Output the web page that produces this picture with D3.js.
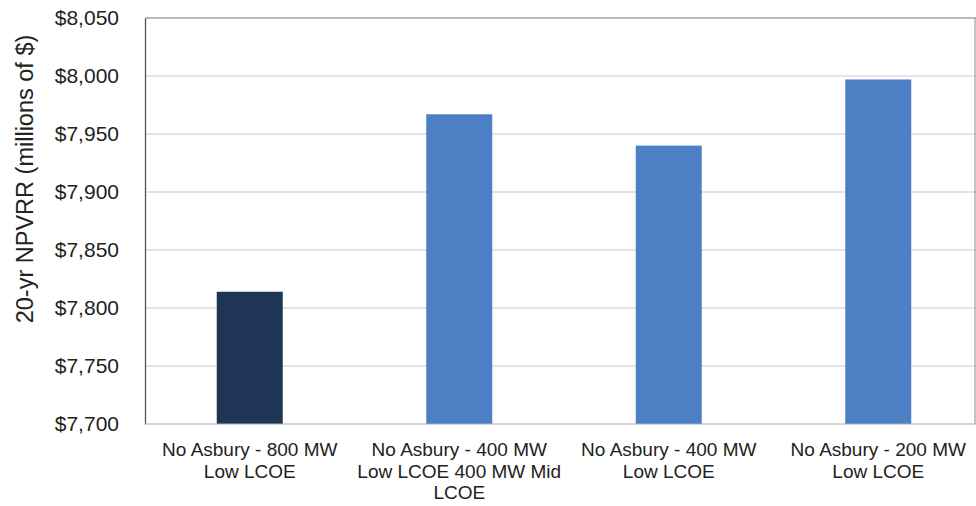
<!DOCTYPE html>
<html>
<head>
<meta charset="utf-8">
<script src="https://cdn.jsdelivr.net/npm/d3@7"></script>
<style>
  html, body { margin: 0; padding: 0; background: #fff; }
  svg { display: block; font-family: "Liberation Sans", Arial, sans-serif; }
</style>
</head>
<body>
<svg id="chart" width="976" height="506"></svg>
<script>
// Scenario labels (one line per array entry)
const categories = [
  ["No Asbury - 800 MW", "Low LCOE"],
  ["No Asbury - 400 MW", "Low LCOE 400 MW Mid", "LCOE"],
  ["No Asbury - 400 MW", "Low LCOE"],
  ["No Asbury - 200 MW", "Low LCOE"]
];
// 20-year NPVRR, millions of dollars
const values = [7814, 7967, 7940, 7997];
const barColors = ["#1f3556", "#4d7fc5", "#4d7fc5", "#4d7fc5"];
const yTicks = [7700, 7750, 7800, 7850, 7900, 7950, 8000, 8050];
const yTitle = "20-yr NPVRR (millions of $)";

const svg = d3.select("#chart");
const plotLeft = 145, plotRight = 983, plotTop = 18, plotBottom = 424;

const x = d3.scaleBand()
  .domain(d3.range(categories.length))
  .range([plotLeft, plotRight])
  .paddingInner(0.685)
  .paddingOuter(0.3425);

const y = d3.scaleLinear().domain([7700, 8050]).range([plotBottom, plotTop]);

// Horizontal gridlines
svg.append("g")
  .selectAll("line")
  .data(yTicks.slice(1, -1))
  .join("line")
  .attr("x1", plotLeft).attr("x2", 976)
  .attr("y1", d => y(d)).attr("y2", d => y(d))
  .attr("stroke", "#c9c9c9").attr("stroke-width", 1);

// Plot frame: top and right edges
svg.append("line").attr("x1", plotLeft).attr("x2", 976)
  .attr("y1", y(8050)).attr("y2", y(8050))
  .attr("stroke", "#777").attr("stroke-width", 1.2);
svg.append("line").attr("x1", 975).attr("x2", 975)
  .attr("y1", y(8050)).attr("y2", y(7700))
  .attr("stroke", "#888").attr("stroke-width", 1);

// Bars
svg.append("g")
  .selectAll("rect")
  .data(values)
  .join("rect")
  .attr("x", (d, i) => x(i))
  .attr("width", x.bandwidth())
  .attr("y", d => y(d))
  .attr("height", d => y(7700) - y(d))
  .attr("fill", (d, i) => barColors[i]);

// Y axis
const yAxis = d3.axisLeft(y).tickValues(yTicks)
  .tickFormat(d => "$" + d3.format(",")(d))
  .tickSize(0).tickPadding(26);
const gy = svg.append("g").attr("transform", `translate(${plotLeft},0)`).call(yAxis);
gy.select(".domain").attr("stroke", "#555").attr("stroke-width", 1.3);
gy.selectAll("text").attr("font-size", 21).attr("fill", "#222")
  .attr("font-family", "Liberation Sans, Arial, sans-serif");

// Bottom axis line
svg.append("line").attr("x1", plotLeft).attr("x2", 976)
  .attr("y1", plotBottom).attr("y2", plotBottom)
  .attr("stroke", "#aaa").attr("stroke-width", 1);

// Category labels
const xl = svg.append("g");
categories.forEach((lines, i) => {
  const cx = x(i) + x.bandwidth() / 2;
  const t = xl.append("text")
    .attr("x", cx)
    .attr("y", 456)
    .attr("text-anchor", "middle")
    .attr("font-size", 19)
    .attr("fill", "#222");
  lines.forEach((ln, j) => {
    t.append("tspan").attr("x", cx)
      .attr("dy", j === 0 ? 0 : 21.5).text(ln);
  });
});

// Y axis title
svg.append("text")
  .attr("transform", `translate(25,179) rotate(-90)`)
  .attr("text-anchor", "middle")
  .attr("dy", "0.35em")
  .attr("font-size", 23.5)
  .attr("fill", "#222")
  .text(yTitle);
</script>
</body>
</html>
